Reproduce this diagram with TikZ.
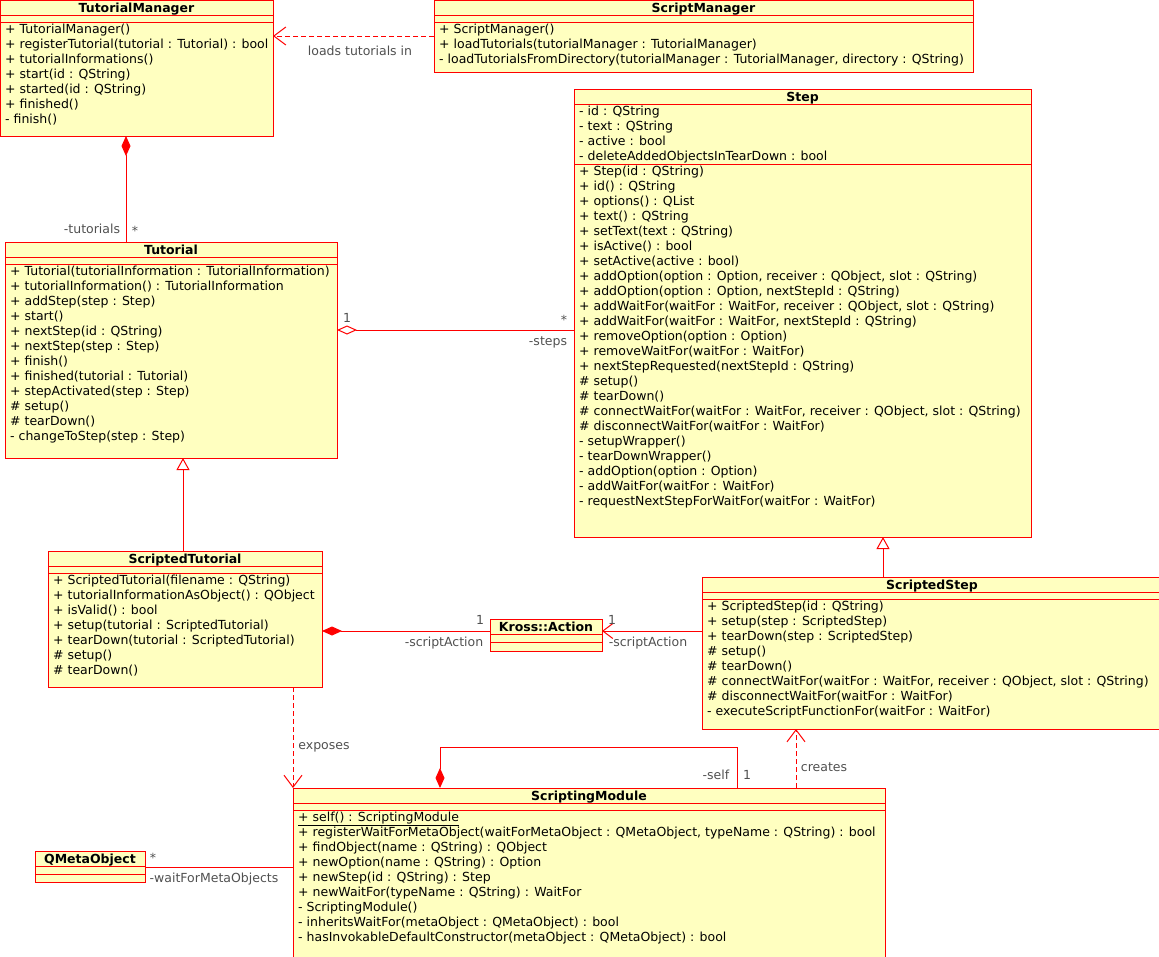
\documentclass[tikz,border=0pt]{standalone}
\usepackage{fontspec}
\setmainfont{DejaVu Sans}
\usetikzlibrary{arrows.meta}

\definecolor{umlred}{RGB}{255,0,0}
\definecolor{umlfill}{RGB}{255,255,192}
\definecolor{rolegray}{RGB}{80,80,80}

\newcommand{\umlfont}{\fontsize{12.5}{15}\selectfont}

\tikzset{
  classbox/.style={draw=umlred, fill=umlfill, line width=1pt,
    anchor=north west, inner sep=0pt, outer sep=0pt},
  classtitle/.style={font=\umlfont\bfseries, anchor=base, inner sep=0pt},
  member/.style={font=\umlfont, anchor=base west, inner sep=0pt},
  rolelabel/.style={font=\umlfont, text=rolegray, anchor=base, inner sep=0pt},
  umlline/.style={draw=umlred, line width=1pt},
  dependency/.style={umlline, dash pattern=on 5pt off 3pt,
    arrows={-{Straight Barb[length=12pt,width=18pt]}}},
  association/.style={umlline, arrows={-{Straight Barb[length=10pt,width=15pt]}}},
  generalization/.style={umlline, arrows={-{Triangle[length=12pt,width=13pt,fill=white]}}},
  composition/.style={umlline, arrows={{Diamond[length=20pt,width=9pt]}-}},
  aggregation/.style={umlline, arrows={{Diamond[length=20pt,width=9pt,fill=white]}-}}
}

% class box: name, x, y, width, height, title, attribute compartment height
\newcommand{\umlclass}[7]{%
  \node[classbox, minimum width=#4pt, minimum height=#5pt] (#1) at (#2,#3) {};
  \node[classtitle] (#1-title) at (#2+#4/2,#3+12) {#6};
  \draw[umlline] ([yshift=-15pt]#1.north west) -- ([yshift=-15pt]#1.north east);
  \draw[umlline] ([yshift=-15pt-#7pt]#1.north west) -- ([yshift=-15pt-#7pt]#1.north east);
}

% member rows: name, x, first baseline, list
\newcommand{\umlmembers}[4]{%
  \foreach \memb [count=\k] in {#4}
    \node[member] (#1-\k) at (#2+5,#3+15*\k-15) {\memb};
}

\begin{document}
\begin{tikzpicture}[x=1pt, y=-1pt]

\useasboundingbox (0,0) rectangle (1159,956);

% TutorialManager
\umlclass{tm}{0}{0}{273}{136}{TutorialManager}{7}
\umlmembers{tm-m}{0}{33}{
  + TutorialManager(),
  + registerTutorial(tutorial : Tutorial) : bool,
  + tutorialInformations(),
  + start(id : QString),
  + started(id : QString),
  + finished(),
  - finish()}

% ScriptManager
\umlclass{smgr}{434}{0}{539}{72}{ScriptManager}{7}
\umlmembers{smgr-m}{434}{33}{
  + ScriptManager(),
  + loadTutorials(tutorialManager : TutorialManager),
  {- loadTutorialsFromDirectory(tutorialManager : TutorialManager, directory : QString)}}

% Step
\umlclass{step}{574}{89}{457}{448}{Step}{60}
\umlmembers{step-a}{574}{115}{
  - id : QString,
  - text : QString,
  - active : bool,
  - deleteAddedObjectsInTearDown : bool}
\umlmembers{step-m}{574}{175}{
  + Step(id : QString),
  + id() : QString,
  + options() : QList,
  + text() : QString,
  + setText(text : QString),
  + isActive() : bool,
  + setActive(active : bool),
  {+ addOption(option : Option, receiver : QObject, slot : QString)},
  {+ addOption(option : Option, nextStepId : QString)},
  {+ addWaitFor(waitFor : WaitFor, receiver : QObject, slot : QString)},
  {+ addWaitFor(waitFor : WaitFor, nextStepId : QString)},
  + removeOption(option : Option),
  + removeWaitFor(waitFor : WaitFor),
  + nextStepRequested(nextStepId : QString),
  \# setup(),
  \# tearDown(),
  {\# connectWaitFor(waitFor : WaitFor, receiver : QObject, slot : QString)},
  \# disconnectWaitFor(waitFor : WaitFor),
  - setupWrapper(),
  - tearDownWrapper(),
  - addOption(option : Option),
  - addWaitFor(waitFor : WaitFor),
  - requestNextStepForWaitFor(waitFor : WaitFor)}

% Tutorial
\umlclass{tut}{5}{242}{332}{216}{Tutorial}{7}
\umlmembers{tut-m}{5}{275}{
  + Tutorial(tutorialInformation : TutorialInformation),
  + tutorialInformation() : TutorialInformation,
  + addStep(step : Step),
  + start(),
  + nextStep(id : QString),
  + nextStep(step : Step),
  + finish(),
  + finished(tutorial : Tutorial),
  + stepActivated(step : Step),
  \# setup(),
  \# tearDown(),
  - changeToStep(step : Step)}

% ScriptedTutorial
\umlclass{stut}{48}{551}{274}{136}{ScriptedTutorial}{7}
\umlmembers{stut-m}{48}{584}{
  + ScriptedTutorial(filename : QString),
  + tutorialInformationAsObject() : QObject,
  + isValid() : bool,
  + setup(tutorial : ScriptedTutorial),
  + tearDown(tutorial : ScriptedTutorial),
  \# setup(),
  \# tearDown()}

% Kross::Action
\umlclass{kross}{490}{619}{112}{32}{Kross::Action}{8}

% ScriptedStep
\umlclass{sstep}{702}{577}{460}{152}{ScriptedStep}{7}
\umlmembers{sstep-m}{702}{610}{
  + ScriptedStep(id : QString),
  + setup(step : ScriptedStep),
  + tearDown(step : ScriptedStep),
  \# setup(),
  \# tearDown(),
  {\# connectWaitFor(waitFor : WaitFor, receiver : QObject, slot : QString)},
  \# disconnectWaitFor(waitFor : WaitFor),
  - executeScriptFunctionFor(waitFor : WaitFor)}

% ScriptingModule
\umlclass{smod}{293}{788}{592}{172}{ScriptingModule}{7}
\umlmembers{smod-m}{293}{821}{
  \underline{+ self() : ScriptingModule},
  {+ registerWaitForMetaObject(waitForMetaObject : QMetaObject, typeName : QString) : bool},
  + findObject(name : QString) : QObject,
  + newOption(name : QString) : Option,
  + newStep(id : QString) : Step,
  + newWaitFor(typeName : QString) : WaitFor,
  - ScriptingModule(),
  - inheritsWaitFor(metaObject : QMetaObject) : bool,
  - hasInvokableDefaultConstructor(metaObject : QMetaObject) : bool}

% QMetaObject
\umlclass{qmo}{35}{851}{110}{31}{QMetaObject}{8}

% ScriptManager loads tutorials in TutorialManager
\draw[dependency] (smgr.west) -- (smgr.west -| tm.east);
\node[rolelabel] (lbl-loads) at (360,55) {loads tutorials in};

% TutorialManager owns tutorials
\draw[composition] ([xshift=126pt]tm.south west) -- ([xshift=121pt]tut.north west);
\node[rolelabel] (lbl-tutorials) at (92,233) {-tutorials};
\node[rolelabel] (lbl-tutorials-n) at (135,235) {*};

% Tutorial aggregates steps
\draw[aggregation] ([yshift=-88pt]tut.north east) -- ([yshift=-88pt]tut.north east -| step.west);
\node[rolelabel] (lbl-steps-one) at (347,322) {1};
\node[rolelabel] (lbl-steps-n) at (564,324) {*};
\node[rolelabel] (lbl-steps) at (548,345) {-steps};

% Inheritance
\draw[generalization] ([xshift=135pt]stut.north west) -- ([xshift=178pt]tut.south west);
\draw[generalization] ([xshift=181pt]sstep.north west) -- ([xshift=309pt]step.south west);

% Script actions
\draw[composition] ([yshift=-80pt]stut.north east) -- ([yshift=-12pt]kross.north west);
\node[rolelabel] (lbl-act-one) at (480,624) {1};
\node[rolelabel] (lbl-act) at (444,646) {-scriptAction};
\draw[association] ([yshift=-54pt]sstep.north west) -- ([yshift=-12pt]kross.north east);
\node[rolelabel] (lbl-act2-one) at (612,624) {1};
\node[rolelabel] (lbl-act2) at (648,646) {-scriptAction};

% ScriptedTutorial exposes ScriptingModule
\draw[dependency] ([xshift=245pt]stut.south west) -- (smod.north west);
\node[rolelabel] (lbl-exposes) at (324,749) {exposes};

% Singleton
\draw[composition] ([xshift=147pt]smod.north west) -- ++(0,-41) -| ([xshift=444pt]smod.north west);
\node[rolelabel] (lbl-self) at (716,779) {-self};
\node[rolelabel] (lbl-self-one) at (747,779) {1};

% ScriptingModule creates ScriptedStep
\draw[dependency] ([xshift=503pt]smod.north west) -- ([xshift=94pt]sstep.south west);
\node[rolelabel] (lbl-creates) at (824,771) {creates};

% Meta objects
\draw[umlline] ([yshift=-16pt]qmo.north east) -- ([yshift=-16pt]qmo.north east -| smod.west);
\node[rolelabel] (lbl-meta-n) at (153,862) {*};
\node[rolelabel] (lbl-meta) at (214,882) {-waitForMetaObjects};

\end{tikzpicture}
\end{document}
